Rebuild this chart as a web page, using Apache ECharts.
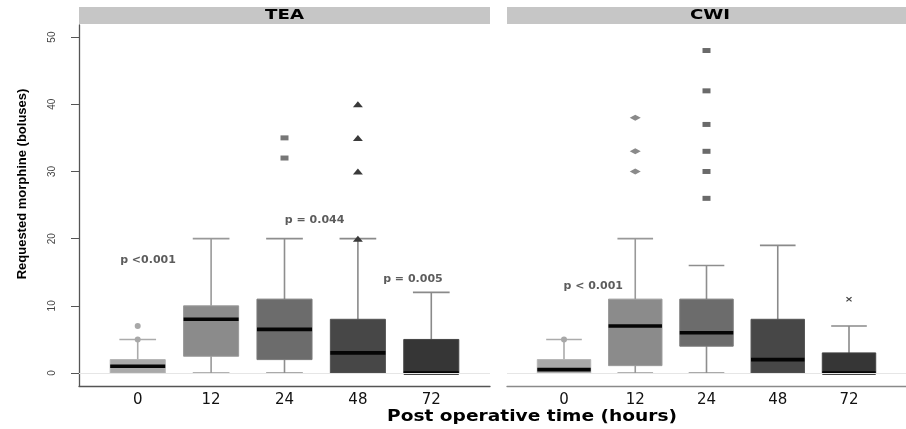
<!DOCTYPE html>
<html><head><meta charset="utf-8">
<script src="https://cdn.jsdelivr.net/npm/echarts@6/dist/echarts.min.js"></script>
<style>html,body{margin:0;padding:0;background:#fff}#c{width:906px;height:429px}</style>
</head><body><div id="c"></div>
<script>
// ---- data ----
const categories = ['0', '12', '24', '48', '72'];
const panels = ['TEA', 'CWI'];
// [lower whisker, Q1, median, Q3, upper whisker]
const teaBoxes = [[0, 0, 1, 2, 5], [0, 2.5, 8, 10, 20], [0, 2, 6.5, 11, 20], [0, 0, 3, 8, 20], [0, 0, 0, 5, 12]];
const cwiBoxes = [[0, 0, 0.5, 2, 5], [0, 1.1, 7, 11, 20], [0, 4, 6, 11, 16], [0, 0, 2, 8, 19], [0, 0, 0, 3, 7]];
// outliers: [category index, value]
const teaOutCircle = [[0, 5], [0, 7]];
const teaOutSquare = [[2, 32], [2, 35]];
const teaOutTriangle = [[3, 20], [3, 30], [3, 35], [3, 40]];
const cwiOutCircle = [[0, 5]];
const cwiOutDiamond = [[1, 30], [1, 33], [1, 38]];
const cwiOutSquare = [[2, 26], [2, 30], [2, 33], [2, 37], [2, 42], [2, 48]];
const cwiOutCross = [[4, 11]];
const yTicks = [0, 10, 20, 30, 40, 50];
const catTicks = [0, 1, 2, 3, 4];
// p-value annotations: [x (category units), y (boluses), text]
const teaNotes = [[0.14, 16.8, 'p <0.001'], [2.41, 22.8, 'p = 0.044'], [3.75, 14, 'p = 0.005']];
const cwiNotes = [[0.41, 12.9, 'p < 0.001']];

// ---- styles ----
const boxColors = ['#a9a9a9', '#8b8b8b', '#6c6c6c', '#474747', '#363636'];
const boxBorders = ['#b4b4b4', '#9a9a9a', '#7a7a7a', '#555555', '#444444'];
const whiskerColors = ['#ababab', '#999999', '#8e8e8e', '#8a8a8a', '#8a8a8a'];

function boxRender(params, api) {
  const x = api.value(0);
  const lo = api.value(1), q1 = api.value(2), md = api.value(3), q3 = api.value(4), hi = api.value(5);
  const bw = api.size([0.75, 0])[0];
  const cw = api.size([0.5, 0])[0];
  const pLo = api.coord([x, lo]), pQ1 = api.coord([x, q1]), pMd = api.coord([x, md]),
        pQ3 = api.coord([x, q3]), pHi = api.coord([x, hi]);
  const cx = pMd[0];
  const wc = whiskerColors[x];
  const ch = [];
  const ws = { stroke: wc, lineWidth: 1.6 };
  if (hi > q3) {
    ch.push({ type: 'line', shape: { x1: cx, y1: pQ3[1], x2: cx, y2: pHi[1] }, style: ws });
    ch.push({ type: 'line', shape: { x1: cx - cw / 2, y1: pHi[1], x2: cx + cw / 2, y2: pHi[1] }, style: ws });
  }
  if (lo < q1) {
    ch.push({ type: 'line', shape: { x1: cx, y1: pQ1[1], x2: cx, y2: pLo[1] }, style: ws });
    ch.push({ type: 'line', shape: { x1: cx - cw / 2, y1: pLo[1], x2: cx + cw / 2, y2: pLo[1] }, style: ws });
  }
  ch.push({ type: 'rect', shape: { x: cx - bw / 2, y: pQ3[1], width: bw, height: Math.max(pQ1[1] - pQ3[1], 1) },
    style: { fill: boxColors[x], stroke: boxBorders[x], lineWidth: 1 } });
  ch.push({ type: 'line', shape: { x1: cx - bw / 2, y1: pMd[1], x2: cx + bw / 2, y2: pMd[1] },
    style: { stroke: '#050505', lineWidth: 3.6 } });
  return { type: 'group', children: ch };
}

function boxData(arr) { return arr.map((b, i) => [i].concat(b)); }

function outSeries(gi, data, symbol, size, color) {
  return { type: 'scatter', xAxisIndex: gi, yAxisIndex: gi, data: data, symbol: symbol, symbolSize: size,
    itemStyle: { color: color, opacity: 1 }, z: 4, silent: true };
}
function noteSeries(gi, data) {
  return { type: 'scatter', xAxisIndex: gi, yAxisIndex: gi, data: data, symbolSize: 0, z: 1, silent: true,
    label: { show: true, position: 'inside', formatter: p => p.value[2],
      fontFamily: 'DejaVu Sans', fontWeight: 'bold', fontSize: 11, color: '#333' },
    markLine: { silent: true, symbol: 'none', label: { show: false }, animation: false,
      lineStyle: { color: '#e6e6e6', type: 'solid', width: 1 }, data: [{ yAxis: 0 }] } };
}

const crossPath = 'path://M0,1.5L1.5,0L5,3.5L8.5,0L10,1.5L6.5,5L10,8.5L8.5,10L5,6.5L1.5,10L0,8.5L3.5,5Z';

function xAx(gi, lineColor) {
  return { type: 'value', gridIndex: gi, min: -0.8, max: 4.8,
    axisLine: { show: true, onZero: false, lineStyle: { color: lineColor, width: 1.3 } },
    axisTick: { show: false }, splitLine: { show: false },
    axisLabel: { customValues: catTicks, formatter: v => categories[Math.round(v)], margin: 7,
      fontFamily: 'DejaVu Sans', fontSize: 15, color: '#111' } };
}

const option = {
  animation: false,
  backgroundColor: '#ffffff',
  grid: [
    { left: 79, top: 25, width: 411, height: 361 },
    { left: 507, top: 25, width: 410, height: 361 }
  ],
  xAxis: [xAx(0, '#555555'), xAx(1, '#8a8a8a')],
  yAxis: [
    { type: 'value', gridIndex: 0, min: -1.93, max: 51.8,
      axisLine: { show: true, onZero: false, lineStyle: { color: '#555555', width: 1.3 } },
      axisTick: { show: true, length: 8, customValues: yTicks, lineStyle: { color: '#555555', width: 1 } },
      axisLabel: { customValues: yTicks, rotate: 90, margin: 22, fontFamily: 'Liberation Sans', fontSize: 10, color: '#444' },
      splitLine: { show: false } },
    { type: 'value', gridIndex: 1, min: -1.93, max: 51.8, show: false, splitLine: { show: false } }
  ],
  series: [
    noteSeries(0, teaNotes),
    noteSeries(1, cwiNotes),
    { type: 'custom', xAxisIndex: 0, yAxisIndex: 0, data: boxData(teaBoxes), renderItem: boxRender, z: 2,
      encode: { x: 0, y: [1, 2, 3, 4, 5] }, silent: true },
    { type: 'custom', xAxisIndex: 1, yAxisIndex: 1, data: boxData(cwiBoxes), renderItem: boxRender, z: 2,
      encode: { x: 0, y: [1, 2, 3, 4, 5] }, silent: true },
    outSeries(0, teaOutCircle, 'circle', 6, '#a8a8a8'),
    outSeries(0, teaOutSquare, 'rect', [8, 5], '#777777'),
    outSeries(0, teaOutTriangle, 'triangle', [10, 6], '#3a3a3a'),
    outSeries(1, cwiOutCircle, 'circle', 6, '#a8a8a8'),
    outSeries(1, cwiOutDiamond, 'diamond', [11, 6], '#8a8a8a'),
    outSeries(1, cwiOutSquare, 'rect', [8, 5], '#6a6a6a'),
    outSeries(1, cwiOutCross, crossPath, [6, 5], '#444444')
  ],
  graphic: [
    { type: 'rect', shape: { x: 79, y: 7, width: 411, height: 17 }, style: { fill: '#c6c6c6' }, silent: true },
    { type: 'rect', shape: { x: 507, y: 7, width: 399, height: 17 }, style: { fill: '#c6c6c6' }, silent: true },
    { type: 'text', x: 284.5, y: 15.5, scaleX: 1.3, silent: true,
      style: { text: panels[0], font: 'bold 14px "DejaVu Sans"', fill: '#000', align: 'center', verticalAlign: 'middle' } },
    { type: 'text', x: 710, y: 15.5, scaleX: 1.3, silent: true,
      style: { text: panels[1], font: 'bold 14px "DejaVu Sans"', fill: '#000', align: 'center', verticalAlign: 'middle' } },
    { type: 'text', x: 532, y: 417, scaleX: 1.2, silent: true,
      style: { text: 'Post operative time (hours)', font: 'bold 15.5px "DejaVu Sans"', fill: '#000', align: 'center', verticalAlign: 'middle' } },
    { type: 'text', x: 22, y: 184, rotation: Math.PI / 2, silent: true,
      style: { text: 'Requested morphine (boluses)', font: 'bold 13px "Liberation Sans"', fill: '#000', align: 'center', verticalAlign: 'middle' } }
  ]
};

const chart = echarts.init(document.getElementById('c'), null, { renderer: 'canvas' });
chart.setOption(option);
</script>
</body></html>
